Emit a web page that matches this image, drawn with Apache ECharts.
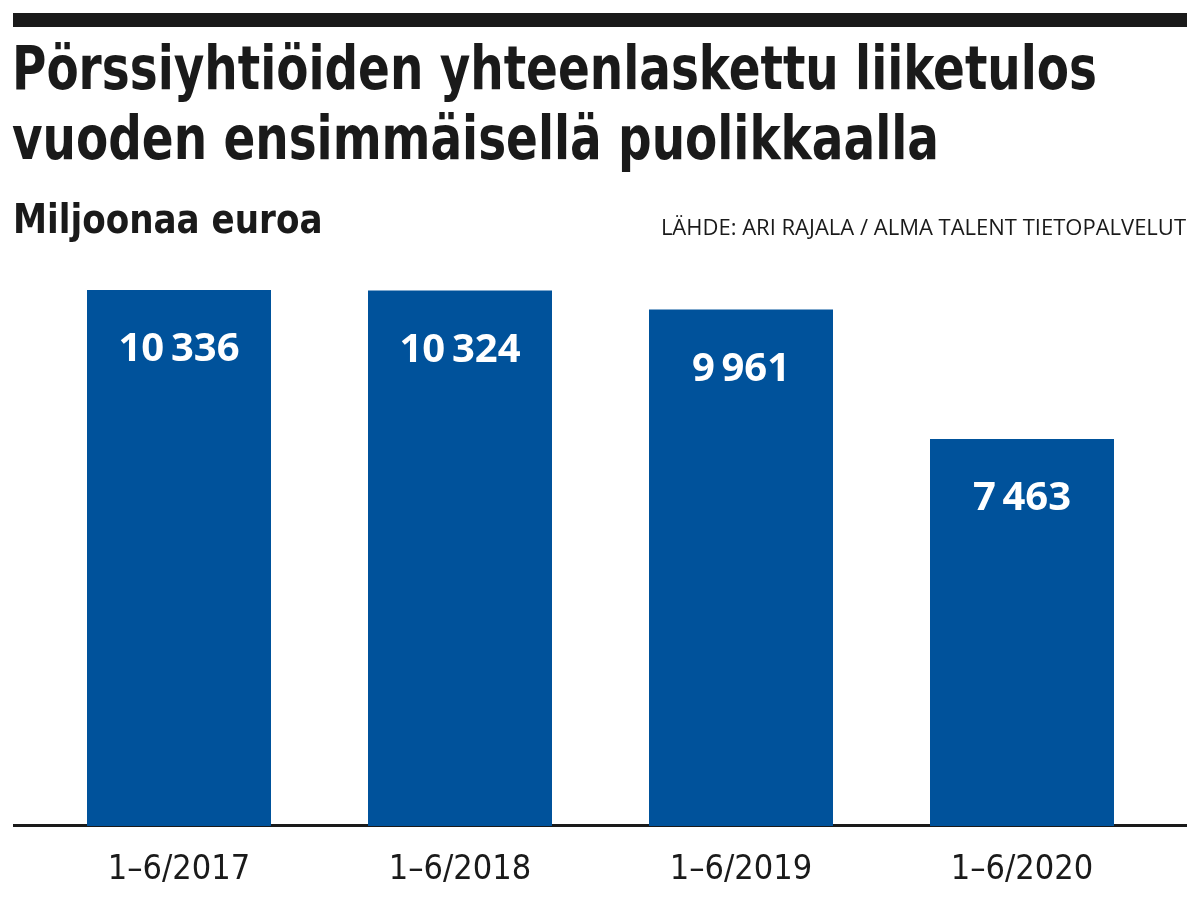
<!DOCTYPE html>
<html><head><meta charset="utf-8">
<script src="https://cdn.jsdelivr.net/npm/echarts@6/dist/echarts.min.js"></script>
<style>html,body{margin:0;padding:0;background:#fff}#c{width:1200px;height:900px}</style>
</head><body><div id="c"></div>
<script>
const categories = ['1–6/2017', '1–6/2018', '1–6/2019', '1–6/2020'];
const values = [10336, 10324, 9961, 7463];
const titleLines = ['Pörssiyhtiöiden yhteenlaskettu liiketulos', 'vuoden ensimmäisellä puolikkaalla'];
const subtitle = 'Miljoonaa euroa';
const source = 'LÄHDE: ARI RAJALA / ALMA TALENT TIETOPALVELUT';

const fmt = v => String(v).replace(/\B(?=(\d{3})+(?!\d))/g, '\u2009');
const chart = echarts.init(document.getElementById('c'), null, {renderer: 'canvas'});
chart.setOption({
  backgroundColor: '#fff',
  animation: false,
  graphic: [
    {type: 'rect', shape: {x: 13, y: 13, width: 1174, height: 14}, style: {fill: '#1a1a1a'}},
    {type: 'text', x: 12, y: 38, scaleX: 0.855, style: {text: titleLines.join('\n'), font: 'bold 61px "DejaVu Sans Condensed"', fill: '#1a1a1a', lineHeight: 70}},
    {type: 'text', x: 13, y: 203, scaleX: 0.95, style: {text: subtitle, font: 'bold 40px "DejaVu Sans Condensed"', fill: '#1a1a1a'}},
    {type: 'text', right: 14, top: 218, style: {text: source, font: '22px "Open Sans"', fill: '#1a1a1a'}},
    {type: 'rect', shape: {x: 13, y: 824, width: 1174, height: 3}, style: {fill: '#1a1a1a'}}
  ],
  grid: {left: 38.5, right: 37.5, top: 290, bottom: 74, containLabel: false},
  xAxis: {
    type: 'category', data: categories,
    axisLine: {show: false}, axisTick: {show: false},
    axisLabel: {margin: 27, fontSize: 34, color: '#1a1a1a', fontFamily: 'DejaVu Sans Condensed'}
  },
  yAxis: {type: 'value', min: 0, max: 10336, show: false, splitLine: {show: false}},
  series: [{
    type: 'bar', data: values, barWidth: 184,
    itemStyle: {color: '#00529b'},
    label: {show: true, position: 'insideTop', distance: 40, color: '#fff', fontSize: 40, fontWeight: 'bold', fontFamily: 'Open Sans', formatter: p => fmt(p.value)}
  }]
});
</script></body></html>
